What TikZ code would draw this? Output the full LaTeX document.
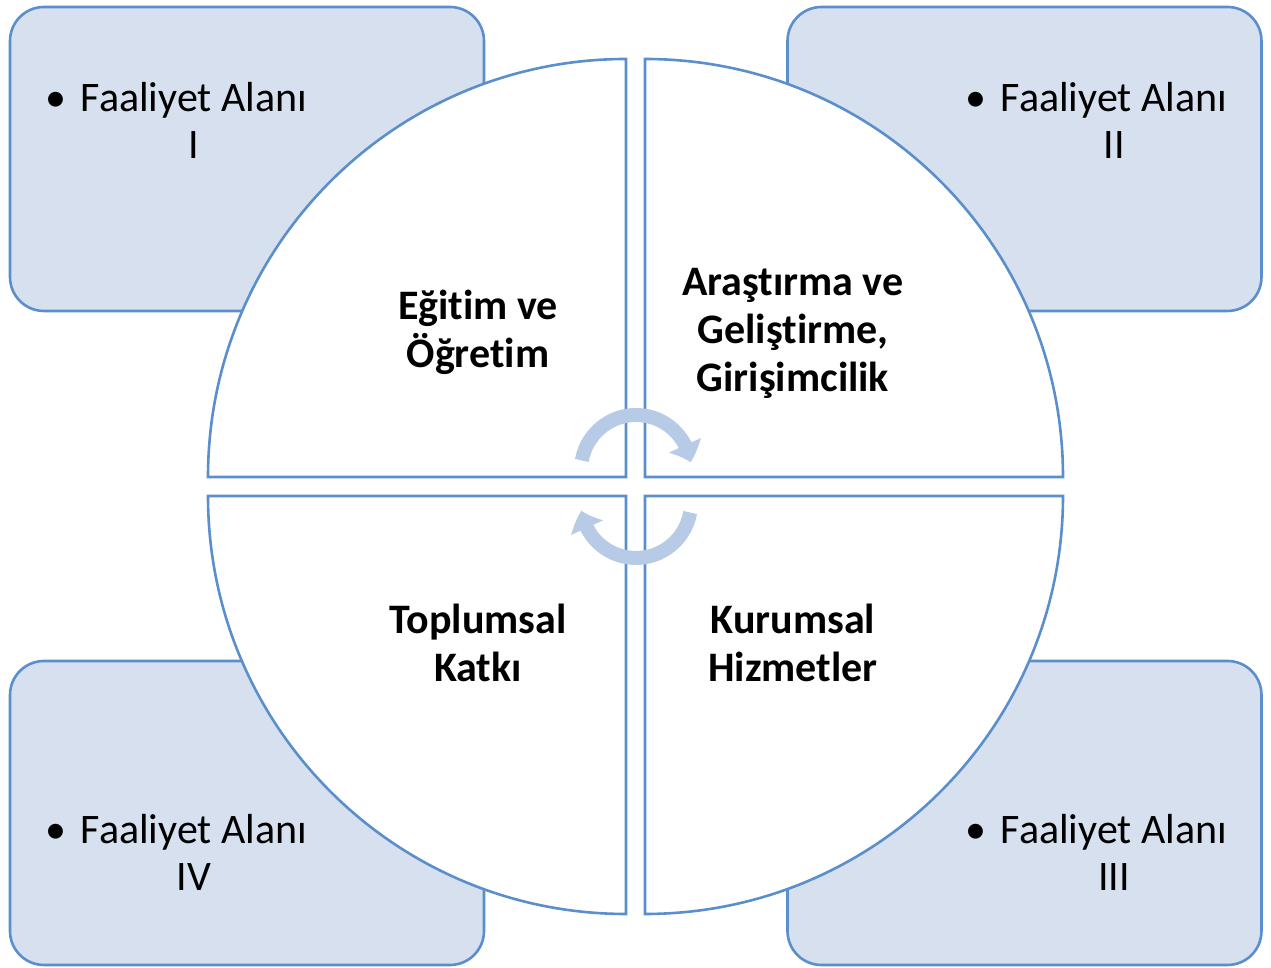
\documentclass[tikz,border=0pt]{standalone}
\usepackage{fontspec}
\setmainfont{Carlito}[Ligatures={NoCommon,NoContextual}, Contextuals={NoAlternate}, RawFeature=-dlig]
\usetikzlibrary{arrows.meta,bending}
\definecolor{areafill}{HTML}{D6E0EF}
\definecolor{arealine}{HTML}{5B8FCB}
\definecolor{cyclecol}{HTML}{B7CBE7}
\tikzset{
  quarter/.style={draw=arealine, fill=white, line width=1.3pt},
  cyclearrow/.style={draw=cyclecol, line width=7pt, -{Triangle[length=9pt,width=17pt,bend]}}
}
\begin{document}
\begin{tikzpicture}[x=0.5pt,y=0.5pt]
  \useasboundingbox (0,0) rectangle (1271,968);

  % corner boxes
  \begin{scope}[every node/.style={draw=arealine, fill=areafill, line width=1.3pt, rounded corners=17pt,
      minimum width=237pt, minimum height=152pt, inner sep=0pt}]
    \node (a1) at (247,809)    {};
    \node (a2) at (1024.5,809) {};
    \node (a3) at (1024.5,155) {};
    \node (a4) at (247,155)    {};
  \end{scope}

  % circle quarters
  \path[quarter] (626,491) -- (626,909) arc[start angle=90, end angle=180, radius=209pt] -- cycle;
  \path[quarter] (645,491) -- (645,909) arc[start angle=90, end angle=0, radius=209pt] -- cycle;
  \path[quarter] (626,472) -- (626,54) arc[start angle=270, end angle=180, radius=209pt] -- cycle;
  \path[quarter] (645,472) -- (645,54) arc[start angle=270, end angle=360, radius=209pt] -- cycle;

  % cycle arrows
  \coordinate (c1) at (636,498);
  \coordinate (c2) at (636,465);
  \draw[cyclearrow] (c1) ++(170:27.5pt) arc[start angle=170, end angle=8, radius=27.5pt];
  \draw[cyclearrow] (c2) ++(-10:27.5pt) arc[start angle=-10, end angle=-172, radius=27.5pt];

  \begin{scope}[every node/.style={align=center, inner sep=0pt, font=\fontsize{21}{23.5}\selectfont}]
    \node (f1) at (194,848)  {\llap{\makebox[0pt]{•}\hspace{12.5pt}}Faaliyet Alanı\\I};
    \node (f2) at (1114,848) {\llap{\makebox[0pt]{•}\hspace{12.5pt}}Faaliyet Alanı\\II};
    \node (f3) at (1114,116) {\llap{\makebox[0pt]{•}\hspace{12.5pt}}Faaliyet Alanı\\III};
    \node (f4) at (194,116)  {\llap{\makebox[0pt]{•}\hspace{12.5pt}}Faaliyet Alanı\\IV};
  \end{scope}

  \begin{scope}[every node/.style={align=center, inner sep=0pt, font=\fontsize{21}{24}\selectfont\bfseries}]
    \node (q1) at (478,636) {Eğitim ve\\Öğretim};
    \node (q2) at (793,635) {Araştırma ve\\Geliştirme,\\Girişimcilik};
    \node (q3) at (793,325) {Kurumsal\\Hizmetler};
    \node (q4) at (478,325) {Toplumsal\\Katkı};
  \end{scope}

\end{tikzpicture}
\end{document}
